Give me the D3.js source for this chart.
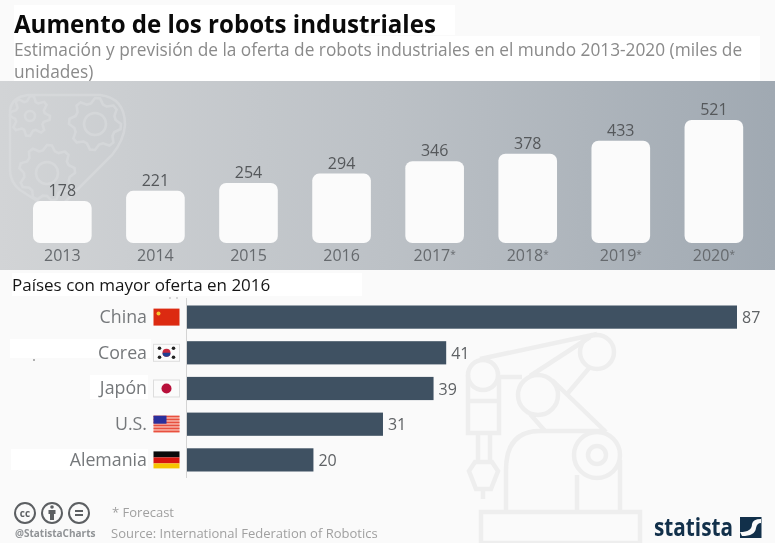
<!DOCTYPE html>
<html>
<head>
<meta charset="utf-8">
<script src="https://cdn.jsdelivr.net/npm/d3@7"></script>
<style>
  html, body { margin: 0; padding: 0; background: #fafafa; overflow: hidden; }
  svg { filter: blur(0.35px); }
  text { font-family: "Open Sans", sans-serif; }
  .axis path, .axis line { display: none; }
</style>
</head>
<body>
<svg id="chart" width="775" height="543"></svg>
<script>
const years = ["2013", "2014", "2015", "2016", "2017*", "2018*", "2019*", "2020*"]
const supply = [178, 221, 254, 294, 346, 378, 433, 521]
const countries = ["China", "Corea", "Japón", "U.S.", "Alemania"]
const share = [87, 41, 39, 31, 20]

const svg = d3.select("#chart")
const defs = svg.append("defs")

const grad = defs.append("linearGradient").attr("id", "panel")
grad.append("stop").attr("offset", "0%").attr("stop-color", "#d2d4d6")
grad.append("stop").attr("offset", "50%").attr("stop-color", "#bcc1c6")
grad.append("stop").attr("offset", "100%").attr("stop-color", "#a0a9b2")

// white patches left around the texts in the picture
const patch = (x, y, w, h) => svg.append("rect").attr("x", x).attr("y", y).attr("width", w).attr("height", h).attr("fill", "#fff")
patch(14, 5, 441, 30)
patch(14, 35, 346, 46)
patch(360, 36, 400, 45)
patch(12, 273, 350, 23)
patch(10, 339, 141, 19)
patch(90, 375, 58, 24)
patch(11, 449, 137, 21)

svg.append("text").attr("x", 14).attr("y", 33).attr("font-size", 24.1).attr("font-weight", 700).attr("fill", "#0a0a0a")
  .text("Aumento de los robots industriales")
svg.append("text").attr("x", 14).attr("y", 56).attr("font-size", 17.3).attr("fill", "#8a8a8a")
  .text("Estimación y previsión de la oferta de robots industriales en el mundo 2013-2020 (miles de")
svg.append("text").attr("x", 14).attr("y", 78).attr("font-size", 17.3).attr("fill", "#8a8a8a")
  .text("unidades)")

// top panel
svg.append("rect").attr("x", 0).attr("y", 81).attr("width", 775).attr("height", 189).attr("fill", "url(#panel)")

// gears watermark
function gearPath(r, teeth) {
  const n = teeth * 4
  const pts = d3.range(n).map(i => [(i / n) * 2 * Math.PI, i % 4 < 2 ? r + 5 : r])
  return d3.lineRadial().curve(d3.curveLinearClosed)(pts)
}
const deco = svg.append("g").attr("fill", "none").attr("stroke", "#dcdee0").attr("stroke-width", 2.5).attr("opacity", 0.55)
deco.append("path").attr("d", "M28,95 L100,95 Q125,98 125,125 Q124,140 112,155 L62,205 Q55,210 45,206 L20,190 Q10,182 10,170 L10,110 Q12,97 28,95 Z")
const gears = [[30, 116, 15, 8, 5], [95, 124, 21, 8, 11], [47, 173, 23, 9, 11]]
gears.forEach(g => {
  deco.append("path").attr("transform", `translate(${g[0]},${g[1]})`).attr("d", gearPath(g[2], g[3]))
  deco.append("circle").attr("cx", g[0]).attr("cy", g[1]).attr("r", g[4])
})

// upper bars
const x = d3.scaleBand().domain(years).range([15.8, 760.4]).paddingInner(0.37).paddingOuter(0.185)
const y = d3.scaleLinear().domain([0, 521]).range([243, 120])

svg.selectAll(".supply").data(supply).join("rect").attr("class", "supply")
  .attr("x", (d, i) => x(years[i])).attr("y", d => y(d))
  .attr("width", x.bandwidth()).attr("height", d => y(0) - y(d))
  .attr("rx", 7).attr("fill", "#fbfbfb")

svg.selectAll(".supplyLabel").data(supply).join("text").attr("class", "supplyLabel")
  .attr("x", (d, i) => x(years[i]) + x.bandwidth() / 2).attr("y", d => y(d) - 5)
  .attr("text-anchor", "middle").attr("font-size", 16).attr("fill", "#55585b")
  .text(d => d)

const xAxis = svg.append("g").attr("class", "axis").attr("transform", "translate(0,243)")
  .call(d3.axisBottom(x).tickSize(0).tickPadding(6.5))
xAxis.selectAll("text").attr("font-size", 16).attr("fill", "#666a6e")
  .style("font-family", '"Open Sans", sans-serif')
  .each(function (d) {
    if (!d.endsWith("*")) return
    // the asterisk sits small and raised
    const t = d3.select(this).text(d.slice(0, -1))
    t.append("tspan").attr("font-size", 10).attr("dy", -3).text("*")
  })

// robot arm watermark
const robot = svg.append("g").attr("fill", "none").attr("stroke", "#eeeeee").attr("stroke-width", 4.5)
robot.append("rect").attr("x", 481).attr("y", 512).attr("width", 159).attr("height", 31)
robot.append("circle").attr("cx", 597).attr("cy", 352).attr("r", 17)
robot.append("circle").attr("cx", 483).attr("cy", 375).attr("r", 15)
robot.append("circle").attr("cx", 538).attr("cy", 395).attr("r", 20)
robot.append("circle").attr("cx", 597).attr("cy", 455).attr("r", 23)
robot.append("circle").attr("cx", 597).attr("cy", 455).attr("r", 9)
robot.append("path").attr("d", "M480,359 L597,334 M530,376 L590,337 M568,393 L590,367 M498,377 L522,377 M552,380 L606,432 M530,414 L545,431")
robot.append("path").attr("d", "M606,431 L540,431 Q506,431 506,470 L506,512 M577,475 L577,512 M620,460 L620,512")
robot.append("path").attr("d", "M468,375 L468,433 L499,433 L499,375 M468,401 L499,401 M478,433 L478,462 M490,433 L490,462 M475,462 L492,462 L498,471 L491,489 L476,489 L469,471 Z M483,489 L483,499")

// lower section
svg.append("text").attr("x", 12).attr("y", 291).attr("font-size", 17).attr("fill", "#151515")
  .text("Países con mayor oferta en 2016")
svg.append("circle").attr("cx", 34).attr("cy", 360).attr("r", 0.8).attr("fill", "#555")
svg.append("circle").attr("cx", 170).attr("cy", 298).attr("r", 0.7).attr("fill", "#999")
svg.append("circle").attr("cx", 177).attr("cy", 298).attr("r", 0.7).attr("fill", "#999")

const xb = d3.scaleLinear().domain([0, 87]).range([187, 737])
const yb = d3.scaleBand().domain(countries).range([305.5, 471.5]).paddingInner(0.35)

svg.append("line").attr("x1", 186.5).attr("x2", 186.5).attr("y1", 298).attr("y2", 478).attr("stroke", "#d4d4d4")

svg.selectAll(".share").data(share).join("rect").attr("class", "share")
  .attr("x", xb(0)).attr("y", (d, i) => yb(countries[i]))
  .attr("width", d => xb(d) - xb(0)).attr("height", yb.bandwidth())
  .attr("fill", "#3f5162")

svg.selectAll(".shareLabel").data(share).join("text").attr("class", "shareLabel")
  .attr("x", d => xb(d) + 5).attr("y", (d, i) => yb(countries[i]) + yb.bandwidth() / 2 + 6)
  .attr("font-size", 16).attr("fill", "#5f6265")
  .text(d => d)

const yAxis = svg.append("g").attr("class", "axis").attr("transform", "translate(187,0)")
  .call(d3.axisLeft(yb).tickSize(0).tickPadding(40))
yAxis.selectAll("text").attr("font-size", 17.8).attr("fill", "#75787b")
  .style("font-family", '"Open Sans", sans-serif')

// flags
const flags = {
  "China": f => {
    f.append("rect").attr("width", 26).attr("height", 17).attr("fill", "#dc2a11")
    f.append("circle").attr("cx", 5).attr("cy", 5).attr("r", 2).attr("fill", "#f4c430")
  },
  "Corea": f => {
    f.append("rect").attr("width", 26).attr("height", 17).attr("fill", "#fbfbfb").attr("stroke", "#ddd")
    f.append("circle").attr("cx", 13).attr("cy", 8.5).attr("r", 4).attr("fill", "#c8283c")
    f.append("path").attr("d", "M9,8.5 A4,4 0 0 0 17,8.5 Z").attr("fill", "#1f3f92")
    ;[[6, 4], [20, 4], [6, 13], [20, 13]].forEach(p => f.append("circle").attr("cx", p[0]).attr("cy", p[1]).attr("r", 1.8).attr("fill", "#222"))
  },
  "Japón": f => {
    f.append("rect").attr("width", 26).attr("height", 17).attr("fill", "#fbfbfb").attr("stroke", "#ddd")
    f.append("circle").attr("cx", 13).attr("cy", 8.5).attr("r", 5).attr("fill", "#b8103a")
  },
  "U.S.": f => {
    f.append("rect").attr("width", 26).attr("height", 17).attr("fill", "#f7b3a8")
    d3.range(0, 17, 3).forEach(v => f.append("rect").attr("y", v).attr("width", 26).attr("height", 1.5).attr("fill", "#e8503f"))
    f.append("rect").attr("width", 13).attr("height", 8).attr("fill", "#2a2f9c")
  },
  "Alemania": f => {
    f.append("rect").attr("width", 26).attr("height", 6).attr("fill", "#0a0a0a")
    f.append("rect").attr("y", 6).attr("width", 26).attr("height", 6).attr("fill", "#d8160f")
    f.append("rect").attr("y", 12).attr("width", 26).attr("height", 5).attr("fill", "#f6c400")
  }
}
countries.forEach(c => {
  const f = svg.append("g").attr("transform", `translate(153.5,${yb(c) + yb.bandwidth() / 2 - 8.5})`)
  flags[c](f)
})

// footer
const cc = svg.append("g").attr("fill", "none").attr("stroke", "#5c5f62").attr("stroke-width", 2)
;[25, 52, 79].forEach(v => cc.append("circle").attr("cx", v).attr("cy", 513).attr("r", 10))
svg.append("text").attr("x", 25).attr("y", 517).attr("text-anchor", "middle").attr("font-size", 10).attr("font-weight", 700).attr("fill", "#5c5f62").text("cc")
cc.append("circle").attr("cx", 52).attr("cy", 507).attr("r", 1.8).attr("fill", "#5c5f62").attr("stroke", "none")
cc.append("path").attr("d", "M48.5,510 H55.5 V514 H54 V520 H50 V514 H48.5 Z").attr("fill", "#5c5f62").attr("stroke", "none")
cc.append("path").attr("d", "M75,511 H83 M75,515 H83")

svg.append("text").attr("x", 15).attr("y", 537).attr("font-size", 10).attr("font-weight", 700).attr("fill", "#909396").text("@StatistaCharts")
svg.append("text").attr("x", 112).attr("y", 517).attr("font-size", 13).attr("fill", "#a0a0a0").text("* Forecast")
svg.append("text").attr("x", 111).attr("y", 538).attr("font-size", 13).attr("fill", "#a0a0a0").text("Source: International Federation of Robotics")

// logo
svg.append("text").attr("x", 654).attr("y", 535.5).attr("font-size", 24.5).attr("font-weight", 700).attr("fill", "#12304a")
  .attr("textLength", 79).attr("lengthAdjust", "spacingAndGlyphs").text("statista")
svg.append("rect").attr("x", 740).attr("y", 517).attr("width", 21.5).attr("height", 21).attr("fill", "#12304a")
svg.append("path").attr("d", "M740,532 Q752,532 752,524 Q753,519 761,519 L761,523 Q757,523 756,528 Q755,536 742,536 Z").attr("fill", "#fafafa")
</script>
</body>
</html>
